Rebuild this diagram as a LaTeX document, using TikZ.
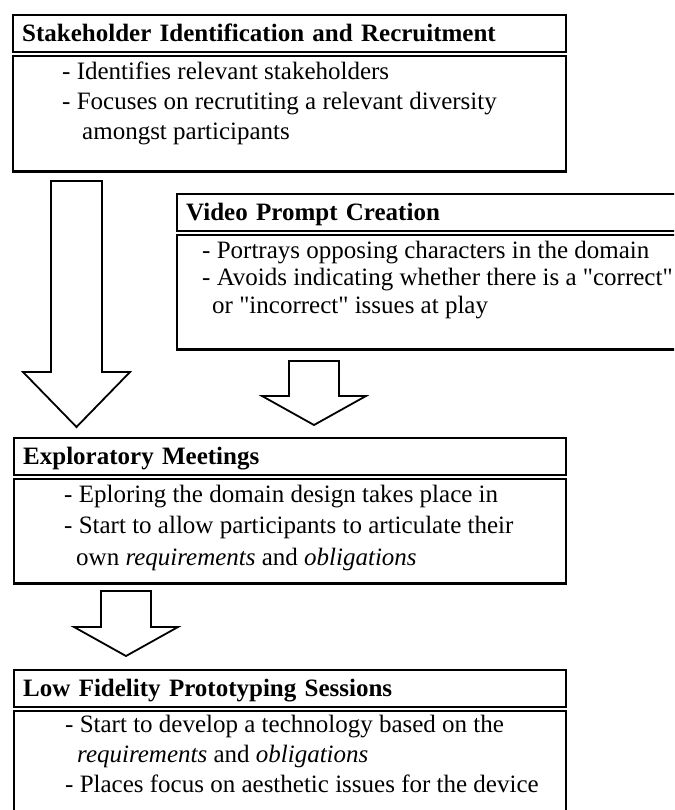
\documentclass[tikz,border=0pt]{standalone}
\usepackage{fontspec}
\setmainfont{Liberation Serif}
\usepackage{tikz}
\usetikzlibrary{positioning}

\begin{document}
\begin{tikzpicture}[x=1pt,y=1pt]
		\useasboundingbox (0,0) rectangle (674,-810);
		\fill[white] (0,0) rectangle (674,-810);
		\clip (0,0) rectangle (674,-810);

		% stage titles
		\begin{scope}[every node/.style={draw,line width=2.4pt,anchor=north west,align=left,
					inner xsep=9pt,inner ysep=0pt,minimum height=37pt,
					text height=18pt,text depth=3pt,font=\fontsize{25}{30}\selectfont\bfseries}]
			\node[text width=535pt] (stakeHead) at (12,-14) {Stakeholder Identification and Recruitment};
			\node[text width=506pt] (videoHead) at (176,-193) {Video Prompt Creation};
			\node[text width=534pt] (explHead) at (13,-437) {Exploratory Meetings};
			\node[text width=534pt] (lowHead) at (13,-669) {Low Fidelity Prototyping Sessions};
		\end{scope}

		% stage frames
		\begin{scope}[every node/.style={draw,line width=2.4pt,anchor=north west,inner sep=0pt}]
			\node[minimum width=553pt,minimum height=115.5pt] (stakeBody) at ([yshift=-1.5pt]stakeHead.south west) {};
			\node[minimum width=524pt,minimum height=114.5pt] (videoBody) at ([yshift=-1.5pt]videoHead.south west) {};
			\node[minimum width=552pt,minimum height=104.5pt] (explBody) at ([yshift=-1.5pt]explHead.south west) {};
			\node[minimum width=552pt,minimum height=140pt] (lowBody) at ([yshift=-1.5pt]lowHead.south west) {};
		\end{scope}

		% stage notes
		\begin{scope}[every node/.style={anchor=north west,align=left,inner sep=0pt,
					font=\fontsize{25}{30}\selectfont}]
			\node (stakeText) at ([xshift=50pt,yshift=-3.5pt]stakeBody.north west)
				{\strut- Identifies relevant stakeholders\\
				 \strut- Focuses on recrutiting a relevant diversity\\
				 \hspace*{20pt}\strut amongst participants};
			\node[font=\fontsize{25}{27.5}\selectfont] (videoText) at ([xshift=26pt,yshift=-5pt]videoBody.north west)
				{\strut- Portrays opposing characters in the domain\\
				 \strut- Avoids indicating whether there is a \textquotedbl correct\textquotedbl\\
				 \hspace*{10pt}\strut or \textquotedbl incorrect\textquotedbl{} issues at play};
			\node[font=\fontsize{25}{31.5}\selectfont] (explText) at ([xshift=51pt,yshift=-2pt]explBody.north west)
				{\strut- Eploring the domain design takes place in\\
				 \strut- Start to allow participants to articulate their\\
				 \hspace*{12pt}\strut own \textit{requirements} and \textit{obligations}};
			\node (lowText) at ([xshift=52pt,yshift=-1pt]lowBody.north west)
				{\strut- Start to develop a technology based on the\\
				 \hspace*{12pt}\strut\textit{requirements} and \textit{obligations}\\
				 \strut- Places focus on aesthetic issues for the device};
		\end{scope}

		% block arrows
		\begin{scope}[line width=1.8pt,line join=miter]
			\draw (51,-181) -- (102,-181) -- (102,-372) -- (130,-372)
				-- (76.5,-427) -- (23,-372) -- (51,-372) -- cycle;
			\draw (289,-361) -- (339,-361) -- (339,-396) -- (366,-396)
				-- (314,-425) -- (262,-396) -- (289,-396) -- cycle;
			\draw (101,-591) -- (151,-591) -- (151,-627) -- (178,-627)
				-- (126,-656) -- (74,-627) -- (101,-627) -- cycle;
		\end{scope}
	\end{tikzpicture}
\end{document}
